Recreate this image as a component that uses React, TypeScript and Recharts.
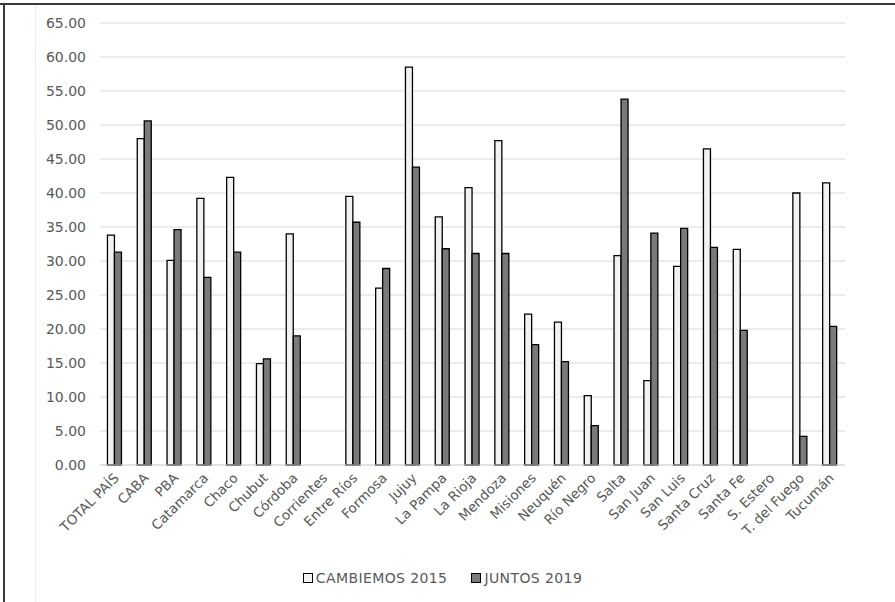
import React from 'react';
import { BarChart, Bar, XAxis, YAxis, CartesianGrid, Legend } from 'recharts';

const categories = [
  'TOTAL PAÍS', 'CABA', 'PBA', 'Catamarca', 'Chaco', 'Chubut', 'Córdoba', 'Corrientes',
  'Entre Ríos', 'Formosa', 'Jujuy', 'La Pampa', 'La Rioja', 'Mendoza', 'Misiones', 'Neuquén',
  'Río Negro', 'Salta', 'San Juan', 'San Luis', 'Santa Cruz', 'Santa Fe', 'S. Estero',
  'T. del Fuego', 'Tucumán',
];

const cambiemos2015: (number | null)[] = [
  33.8, 48.0, 30.1, 39.2, 42.3, 14.9, 34.0, null,
  39.5, 26.0, 58.5, 36.5, 40.8, 47.7, 22.2, 21.0,
  10.2, 30.8, 12.4, 29.2, 46.5, 31.7, null,
  40.0, 41.5,
];

const juntos2019: (number | null)[] = [
  31.3, 50.6, 34.6, 27.6, 31.3, 15.6, 19.0, null,
  35.7, 28.9, 43.8, 31.8, 31.1, 31.1, 17.7, 15.2,
  5.8, 53.8, 34.1, 34.8, 32.0, 19.8, null,
  4.2, 20.4,
];

const yTicks = [0, 5, 10, 15, 20, 25, 30, 35, 40, 45, 50, 55, 60, 65];

const seriesNames = ['CAMBIEMOS 2015', 'JUNTOS 2019'];

const data = categories.map((name, i) => ({
  name,
  c2015: cambiemos2015[i],
  j2019: juntos2019[i],
}));

const FONT = '"DejaVu Sans", sans-serif';
const TEXT = '#595959';

const XTick = (props: any) => {
  const { x, y, payload } = props;
  return (
    <g transform={`translate(${x + 2},${y + 3})`}>
      <text
        x={0}
        y={0}
        dy={4}
        textAnchor="end"
        transform="rotate(-45)"
        fill={TEXT}
        fontSize={13.5}
        fontFamily={FONT}
      >
        {payload.value}
      </text>
    </g>
  );
};

const LegendContent = () => (
  <div
    style={{
      display: 'flex',
      justifyContent: 'center',
      alignItems: 'center',
      height: 30,
      fontFamily: FONT,
      fontSize: 14,
      letterSpacing: 0.4,
      color: TEXT,
      paddingTop: 3,
      paddingLeft: 40,
    }}
  >
    <span style={{ display: 'flex', alignItems: 'center', marginRight: 24 }}>
      <span
        style={{
          display: 'inline-block',
          width: 8,
          height: 8,
          background: '#f2f2f2',
          border: '1px solid #000',
          marginRight: 3,
        }}
      />
      {seriesNames[0]}
    </span>
    <span style={{ display: 'flex', alignItems: 'center' }}>
      <span
        style={{
          display: 'inline-block',
          width: 8,
          height: 8,
          background: '#7a7a7a',
          border: '1px solid #000',
          marginRight: 3,
        }}
      />
      {seriesNames[1]}
    </span>
  </div>
);

export default function App() {
  return (
    <div
      style={{
        position: 'absolute',
        left: 0,
        top: 0,
        width: 895,
        height: 602,
        background: '#fff',
        overflow: 'hidden',
      }}
    >
      <div style={{ position: 'absolute', left: 0, top: 3, width: 895, height: 2, background: '#3a3a3a' }} />
      <div style={{ position: 'absolute', left: 3, top: 3, width: 2, height: 599, background: '#3a3a3a' }} />
      <div style={{ position: 'absolute', left: 35, top: 5, width: 1, height: 597, background: '#eeeeee' }} />
      <div style={{ position: 'absolute', left: 0, top: 0 }}>
        <BarChart
          width={895}
          height={602}
          data={data}
          margin={{ top: 23, right: 50, left: 0, bottom: 12 }}
          barCategoryGap="25%"
          barGap={0}
        >
          <CartesianGrid vertical={false} stroke="#d9d9d9" strokeWidth={1} />
          <XAxis
            dataKey="name"
            interval={0}
            height={95}
            tickLine={false}
            axisLine={{ stroke: '#d9d9d9' }}
            tick={<XTick />}
          />
          <YAxis
            width={100}
            domain={[0, 65]}
            ticks={yTicks}
            interval={0}
            axisLine={false}
            tickLine={false}
            tickMargin={8}
            tickFormatter={(v: number) => v.toFixed(2)}
            tick={{ fill: TEXT, fontSize: 14, fontFamily: FONT }}
          />
          <Legend
            verticalAlign="bottom"
            height={30}
            content={<LegendContent />}
            wrapperStyle={{ height: 30 }}
          />
          <Bar
            dataKey="c2015"
            name={seriesNames[0]}
            fill="#f2f2f2"
            stroke="#000"
            strokeWidth={1.3}
            isAnimationActive={false}
          />
          <Bar
            dataKey="j2019"
            name={seriesNames[1]}
            fill="#7a7a7a"
            stroke="#000"
            strokeWidth={1.3}
            isAnimationActive={false}
          />
        </BarChart>
      </div>
    </div>
  );
}
